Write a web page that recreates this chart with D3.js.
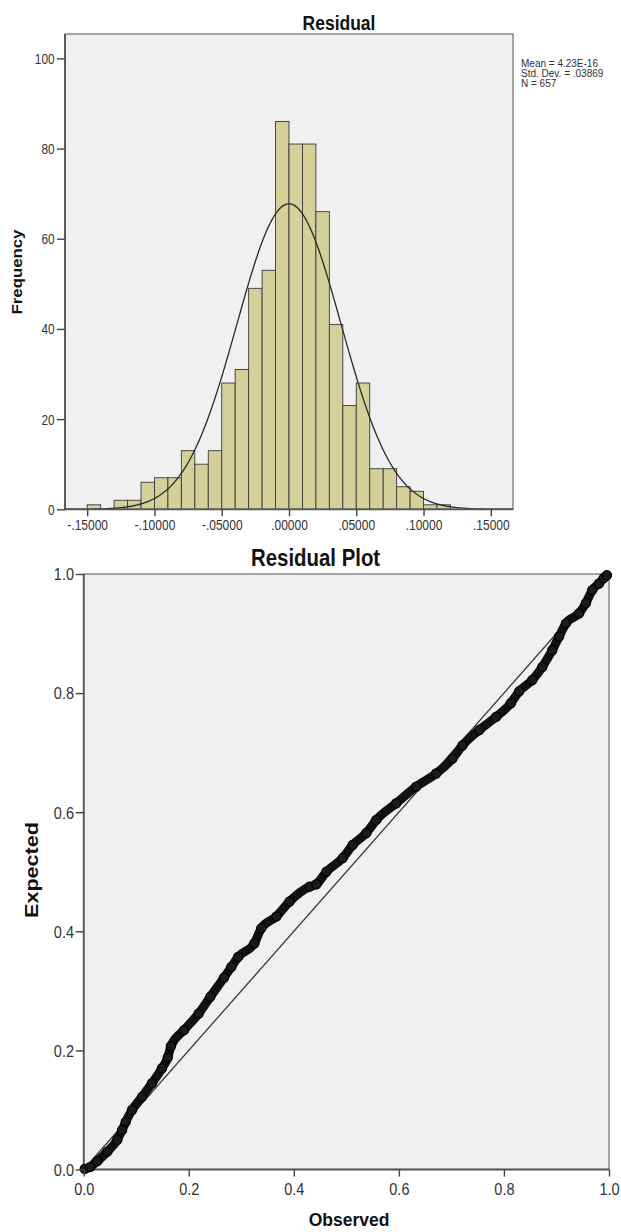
<!DOCTYPE html>
<html><head><meta charset="utf-8">
<script src="https://cdn.jsdelivr.net/npm/d3@7"></script>
<style>
body{margin:0;background:#fff}
svg{display:block}
text{font-family:"Liberation Sans",Arial,sans-serif}
</style>
</head><body>
<svg id="c" width="621" height="1232"></svg>
<script>
// ---------- Histogram data ----------
const binLower  = [-0.15,-0.14,-0.13,-0.12,-0.11,-0.10,-0.09,-0.08,-0.07,-0.06,-0.05,-0.04,-0.03,-0.02,-0.01,0.00,0.01,0.02,0.03,0.04,0.05,0.06,0.07,0.08,0.09,0.10,0.11];
const binCounts = [1,0,2,2,6,7,7,13,10,13,28,31,49,53,86,81,81,66,41,23,28,9,9,5,4,1,1];
const binWidth = 0.01;
const histXTicks = [-0.15,-0.10,-0.05,0.00,0.05,0.10,0.15];
const histXTickLabels = ["-.15000","-.10000","-.05000",".00000",".05000",".10000",".15000"];
const histYTicks = [0,20,40,60,80,100];
const statMean = 4.23e-16;
const statSD = 0.03869;
const statN = 657;
const statLabels = ["Mean = 4.23E-16","Std. Dev. = .03869","N = 657"];

// ---------- P-P plot data ----------
const ppObserved = [0.002,0.012,0.026,0.045,0.064,0.073,0.080,0.092,0.111,0.130,0.149,0.160,0.166,0.191,0.219,0.241,0.267,0.281,0.294,0.325,0.338,0.367,0.392,0.430,0.443,0.462,0.493,0.512,0.538,0.557,0.595,0.633,0.671,0.702,0.721,0.753,0.785,0.813,0.829,0.854,0.873,0.892,0.905,0.918,0.943,0.956,0.968,0.981,0.990,0.996];
const ppExpected = [0.001,0.004,0.014,0.030,0.050,0.066,0.080,0.100,0.122,0.145,0.170,0.188,0.207,0.234,0.262,0.290,0.322,0.340,0.357,0.380,0.405,0.425,0.450,0.475,0.479,0.500,0.523,0.545,0.565,0.587,0.615,0.643,0.665,0.690,0.712,0.738,0.760,0.783,0.803,0.822,0.844,0.872,0.895,0.917,0.934,0.951,0.973,0.984,0.993,0.998];
const ppTicks = [0,0.2,0.4,0.6,0.8,1.0];

const SY = 1.2; // vertical stretch of the original picture's text
const svg = d3.select("#c");

function txt(x, y, s, o) {
  o = o || {};
  const sx = o.rot ? (o.sy || SY) : 1, sy = o.rot ? 1 : (o.sy || SY);
  return svg.append("text")
    .attr("transform", `translate(${x},${y})` + (o.rot ? ` rotate(${o.rot})` : "") + ` scale(${sx},${sy})`)
    .attr("text-anchor", o.anchor || "start")
    .attr("font-size", o.size || 12)
    .attr("font-weight", o.bold ? "bold" : "normal")
    .attr("fill", o.fill || "#222")
    .text(s);
}

// ================= HISTOGRAM =================
const hx = d3.scaleLinear().domain([-0.1665, 0.1665]).range([65, 513]);
const hy = d3.scaleLinear().domain([0, 105.4]).range([509.3, 34]);

svg.append("rect").attr("x", hx.range()[0]).attr("y", hy.range()[1])
  .attr("width", hx.range()[1] - hx.range()[0]).attr("height", hy.range()[0] - hy.range()[1])
  .attr("fill", "#f0f0f0");

svg.append("g").selectAll("rect").data(binLower.map((b, i) => ({b, c: binCounts[i]})).filter(d => d.c > 0))
  .join("rect")
  .attr("x", d => hx(d.b)).attr("width", d => hx(d.b + binWidth) - hx(d.b))
  .attr("y", d => hy(d.c)).attr("height", d => hy(0) - hy(d.c))
  .attr("fill", "#d4d09a").attr("stroke", "#3a3a3a").attr("stroke-width", 0.9);

// normal curve from the stated mean / sd / N
const curveXs = d3.range(hx.domain()[0], hx.domain()[1] + 1e-9, 0.001);
const normal = v => statN * binWidth / (statSD * Math.sqrt(2 * Math.PI)) * Math.exp(-0.5 * Math.pow((v - statMean) / statSD, 2));
svg.append("path").datum(curveXs)
  .attr("d", d3.line().x(v => hx(v)).y(v => hy(normal(v))))
  .attr("fill", "none").attr("stroke", "#2a2a2a").attr("stroke-width", 1.3);

// box
svg.append("rect").attr("x", hx.range()[0]).attr("y", hy.range()[1])
  .attr("width", hx.range()[1] - hx.range()[0]).attr("height", hy.range()[0] - hy.range()[1])
  .attr("fill", "none").attr("stroke", "#6a6a6a").attr("stroke-width", 1.2);
svg.append("line").attr("x1", hx.range()[0]).attr("x2", hx.range()[0]).attr("y1", hy.range()[1]).attr("y2", hy.range()[0])
  .attr("stroke", "#555").attr("stroke-width", 1.8);
svg.append("line").attr("x1", hx.range()[0]).attr("x2", hx.range()[1]).attr("y1", hy.range()[0]).attr("y2", hy.range()[0])
  .attr("stroke", "#555").attr("stroke-width", 1.8);

// axes
const hyAxis = svg.append("g").attr("transform", `translate(${hx.range()[0]},0)`)
  .call(d3.axisLeft(hy).tickValues(histYTicks).tickSize(8).tickPadding(2));
hyAxis.select(".domain").remove();
hyAxis.selectAll("line").attr("stroke", "#444").attr("stroke-width", 1.4);
hyAxis.selectAll("text").attr("x", null).attr("dy", null)
  .attr("transform", `translate(-10.5,${11.8 * 0.358 * SY}) scale(1,${SY})`)
  .attr("font-size", 11.8).attr("fill", "#333").attr("font-family", null);

const hxAxis = svg.append("g").attr("transform", `translate(0,${hy.range()[0]})`)
  .call(d3.axisBottom(hx).tickValues(histXTicks).tickSize(7).tickFormat((d, i) => histXTickLabels[i]));
hxAxis.select(".domain").remove();
hxAxis.selectAll("line").attr("stroke", "#444").attr("stroke-width", 1.4);
hxAxis.selectAll("text").attr("y", null).attr("dy", null)
  .attr("transform", `translate(0,21) scale(1,${SY})`)
  .attr("font-size", 12).attr("fill", "#333").attr("font-family", null);

txt(339, 30, "Residual", {anchor: "middle", size: 17.5, bold: true, fill: "#111"});
txt(21.7, 272, "Frequency", {anchor: "middle", size: 14, bold: true, rot: -90, fill: "#111"});
statLabels.forEach((s, i) => txt(521, 67 + i * 9.8, s, {size: 10, sy: 1.0, fill: "#333"}));

// ================= P-P PLOT =================
const px = d3.scaleLinear().domain([0, 1]).range([83.7, 609]);
const py = d3.scaleLinear().domain([0, 1]).range([1169.5, 574]);

svg.append("rect").attr("x", px(0)).attr("y", py(1))
  .attr("width", px(1) - px(0)).attr("height", py(0) - py(1))
  .attr("fill", "#f0f0f0").attr("stroke", "#6a6a6a").attr("stroke-width", 1.2);
svg.append("line").attr("x1", px(0)).attr("x2", px(0)).attr("y1", py(1)).attr("y2", py(0))
  .attr("stroke", "#555").attr("stroke-width", 1.8);
svg.append("line").attr("x1", px(0)).attr("x2", px(1)).attr("y1", py(0)).attr("y2", py(0))
  .attr("stroke", "#555").attr("stroke-width", 1.8);

// diagonal reference
svg.append("line").attr("x1", px(0)).attr("y1", py(0)).attr("x2", px(1)).attr("y2", py(1))
  .attr("stroke", "#3a3a3a").attr("stroke-width", 1.3);

const ppData = ppObserved.map((o, i) => ({o, e: ppExpected[i]}));
svg.append("path").datum(ppData)
  .attr("d", d3.line().x(d => px(d.o)).y(d => py(d.e)).curve(d3.curveMonotoneX))
  .attr("fill", "none").attr("stroke", "#111").attr("stroke-width", 9)
  .attr("stroke-linejoin", "round").attr("stroke-linecap", "round");
svg.append("g").selectAll("circle").data(ppData).join("circle")
  .attr("cx", d => px(d.o)).attr("cy", d => py(d.e)).attr("r", 4.6)
  .attr("fill", "#1a1a1a").attr("stroke", "#000").attr("stroke-width", 1.2);

const pyAxis = svg.append("g").attr("transform", `translate(${px(0)},0)`)
  .call(d3.axisLeft(py).tickValues(ppTicks).tickSize(8).tickFormat(d3.format(".1f")));
pyAxis.select(".domain").remove();
pyAxis.selectAll("line").attr("stroke", "#444").attr("stroke-width", 1.4);
pyAxis.selectAll("text").attr("x", null).attr("dy", null)
  .attr("transform", `translate(-9.7,${14.5 * 0.358 * 1.12}) scale(1,1.12)`)
  .attr("font-size", 14.5).attr("fill", "#333").attr("font-family", null);

const pxAxis = svg.append("g").attr("transform", `translate(0,${py(0)})`)
  .call(d3.axisBottom(px).tickValues(ppTicks).tickSize(7).tickFormat(d3.format(".1f")));
pxAxis.select(".domain").remove();
pxAxis.selectAll("line").attr("stroke", "#444").attr("stroke-width", 1.4);
pxAxis.selectAll("text").attr("y", null).attr("dy", null)
  .attr("transform", `translate(0,25.5) scale(1,1.12)`)
  .attr("font-size", 14.5).attr("fill", "#333").attr("font-family", null);

txt(315.6, 566, "Residual Plot", {anchor: "middle", size: 20.4, bold: true, fill: "#111"});
txt(38, 870, "Expected", {anchor: "middle", size: 18, bold: true, rot: -90, fill: "#111"});
txt(349, 1226, "Observed", {anchor: "middle", size: 17.5, bold: true, sy: 1.05, fill: "#111"});
</script>
</body></html>
